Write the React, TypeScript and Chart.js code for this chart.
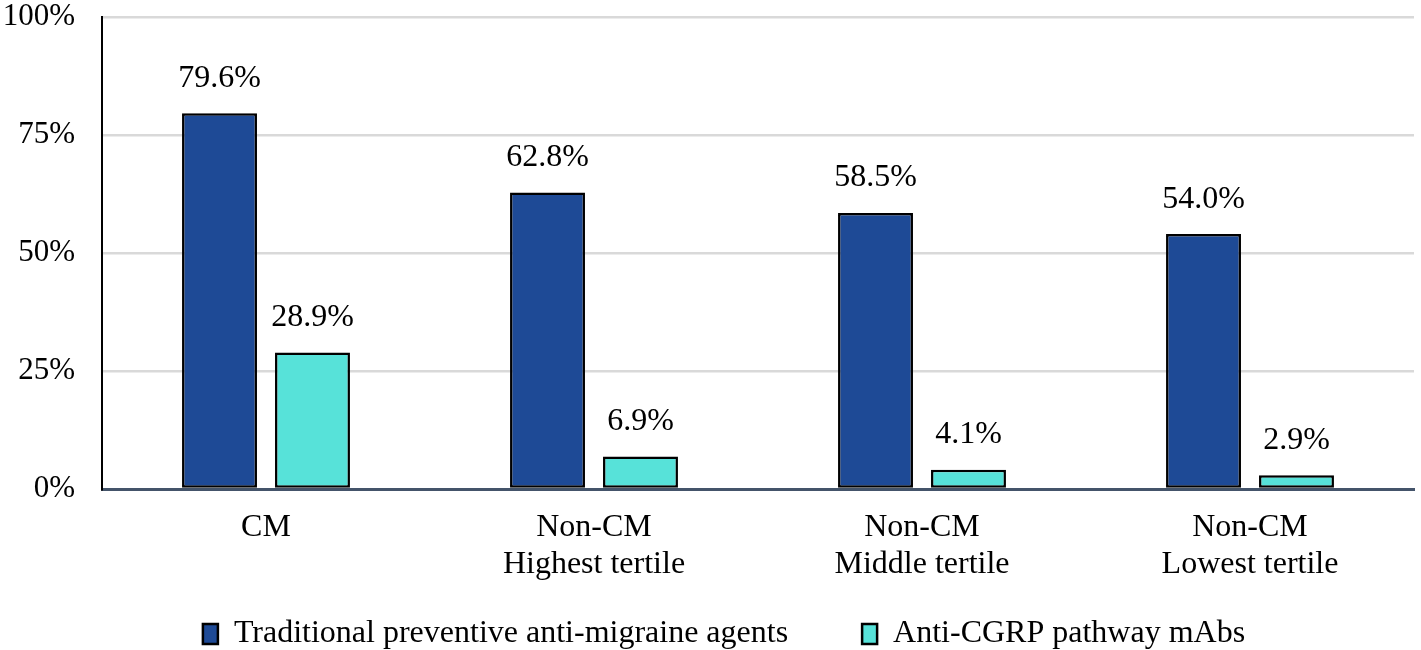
import React, { useEffect, useRef } from "react";
import { Chart, registerables } from "chart.js";

Chart.register(...registerables);

const categories: string[][] = [
  ["CM"],
  ["Non-CM", "Highest tertile"],
  ["Non-CM", "Middle tertile"],
  ["Non-CM", "Lowest tertile"],
];
const seriesNames = ["Traditional preventive anti-migraine agents", "Anti-CGRP pathway mAbs"];
const traditional = [79.6, 62.8, 58.5, 54.0];
const antiCgrp = [28.9, 6.9, 4.1, 2.9];
const yTicks = [0, 25, 50, 75, 100];

const FONT = "'Liberation Serif', 'Times New Roman', serif";

const labelPlugin = {
  id: "barValueLabels",
  afterDatasetsDraw(chart: any) {
    const ctx = chart.ctx;
    ctx.save();
    ctx.font = `32px ${FONT}`;
    ctx.fillStyle = "#000";
    ctx.textAlign = "center";
    ctx.textBaseline = "middle";
    chart.data.datasets.forEach((ds: any, di: number) => {
      const meta = chart.getDatasetMeta(di);
      meta.data.forEach((bar: any, i: number) => {
        ctx.fillText(ds.data[i].toFixed(1) + "%", bar.x, bar.y - 35);
      });
    });
    ctx.restore();
  },
};

const legendShiftPlugin = {
  id: "legendShift",
  afterLayout(chart: any) {
    const lg = chart.legend;
    if (lg) {
      lg.left += 17;
      lg.right += 17;
    }
  },
};

export default function App() {
  const ref = useRef<HTMLCanvasElement | null>(null);
  useEffect(() => {
    document.body.style.margin = "0";
    const chart = new Chart(ref.current!, {
      type: "bar",
      data: {
        labels: categories,
        datasets: [
          {
            label: seriesNames[0],
            data: traditional,
            backgroundColor: "#1E4A96",
            borderColor: "#000",
            borderWidth: 2.5,
            borderSkipped: false,
            barPercentage: 0.806,
            categoryPercentage: 0.567,
          },
          {
            label: seriesNames[1],
            data: antiCgrp,
            backgroundColor: "#57E2D9",
            borderColor: "#000",
            borderWidth: 2.5,
            borderSkipped: false,
            barPercentage: 0.806,
            categoryPercentage: 0.567,
          },
        ],
      },
      options: {
        animation: false,
        responsive: false,
        devicePixelRatio: 1,
        layout: { padding: { top: 17, right: 7, bottom: -10, left: 0 } },
        plugins: {
          tooltip: { enabled: false },
          legend: {
            position: "bottom",
            labels: {
              font: { family: FONT, size: 32, lineHeight: 1.0 },
              color: "#000",
              boxWidth: 15,
              boxHeight: 20,
              padding: 2,
              generateLabels(chart: any) {
                const items = Chart.defaults.plugins.legend.labels.generateLabels(chart);
                return items.map((it: any, i: number) => ({
                  ...it,
                  lineWidth: 2.5,
                  strokeStyle: "#000",
                  text: i === 0 ? it.text + "\u00a0".repeat(9) : it.text,
                }));
              },
            },
          },
        },
        scales: {
          x: {
            grid: { display: false, drawTicks: false },
            border: { display: true, color: "#44546A", width: 3 },
            ticks: {
              font: { family: FONT, size: 32, lineHeight: 1.16 },
              color: "#000",
              padding: 20,
              maxRotation: 0,
              autoSkip: false,
            },
            afterFit(scale: any) {
              scale.height = 127;
            },
          },
          y: {
            min: 0,
            max: 100,
            afterBuildTicks(scale: any) {
              scale.ticks = yTicks.map((v) => ({ value: v }));
            },
            grid: {
              color: "#D9D9D9",
              lineWidth: 2.5,
              drawTicks: true,
              tickLength: 27,
              tickColor: "rgba(0,0,0,0)",
            },
            border: { display: true, color: "#000", width: 2 },
            ticks: {
              font: { family: FONT, size: 31, lineHeight: 1.0 },
              color: "#000",
              padding: 0,
              callback: (v: any) => v + "%",
            },
            afterFit(scale: any) {
              scale.width = 102;
            },
          },
        },
      },
      plugins: [labelPlugin, legendShiftPlugin],
    } as any);
    return () => chart.destroy();
  }, []);
  return (
    <div style={{ width: 1421, height: 650 }}>
      <canvas ref={ref} width={1421} height={650} style={{ display: "block" }} />
    </div>
  );
}
